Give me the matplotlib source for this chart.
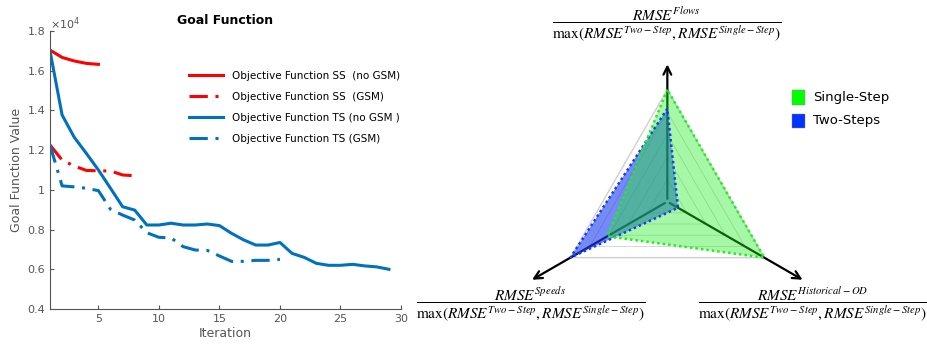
import numpy as np
import matplotlib
matplotlib.use("Agg")
import matplotlib.pyplot as plt
from matplotlib.ticker import FuncFormatter
from matplotlib.patches import Rectangle

# goal function data
iter_ss = [1, 2, 3, 4, 5]
ss_no_gsm = [17040, 16670, 16490, 16370, 16320]
iter_ss_gsm = [1, 2, 3, 4, 5, 6, 7, 8]
ss_gsm = [12260, 11500, 11200, 10980, 10960, 10950, 10750, 10710]
iter_ts = list(range(1, 30))
ts_no_gsm = [17000, 13770, 12650, 11840, 11000, 10080, 9150, 8980, 8230, 8230,
             8320, 8230, 8230, 8280, 8200, 7810, 7480, 7220, 7220, 7350,
             6800, 6600, 6300, 6200, 6200, 6250, 6170, 6120, 6000]
iter_ts_gsm = list(range(1, 21))
ts_gsm = [12260, 10200, 10150, 10080, 9960, 9020, 8730, 8480, 7840, 7610,
          7580, 7140, 6970, 6950, 6670, 6400, 6400, 6450, 6450, 6500]
legend_labels = ["Objective Function SS  (no GSM)", "Objective Function SS  (GSM)",
                 "Objective Function TS (no GSM )", "Objective Function TS (GSM)"]

# radar data: RMSE / max(RMSE two-step, RMSE single-step)
radar_axes = ["Flows", "Speeds", "Historical-OD"]
single_step = [1.0, 0.62, 1.0]
two_steps = [0.83, 1.0, 0.11]

fig = plt.figure(figsize=(9.27, 3.45), dpi=100)

# ---------- left: goal function ----------
ax = fig.add_axes([50/927, 1-309/345, 351/927, 278/345])
red = "#ff0000"
blue = "#0072bd"
dd = (0, (6, 2.5, 1, 2.5))
ax.plot(iter_ss, ss_no_gsm, color=red, lw=2.2, label=legend_labels[0])
ax.plot(iter_ss_gsm, ss_gsm, color=red, lw=2.2, ls=dd, label=legend_labels[1])
ax.plot(iter_ts, ts_no_gsm, color=blue, lw=2.2, label=legend_labels[2])
ax.plot(iter_ts_gsm, ts_gsm, color=blue, lw=2.2, ls=dd, label=legend_labels[3])
ax.set_xlim(1, 30)
ax.set_ylim(4000, 18000)
ax.set_xticks([5, 10, 15, 20, 25, 30])
ax.set_yticks(np.arange(4000, 18001, 2000))
ax.yaxis.set_major_formatter(FuncFormatter(lambda v, p: "%g" % round(v / 1e4, 2)))
for s in ["top", "right"]:
    ax.spines[s].set_visible(False)
for s in ["left", "bottom"]:
    ax.spines[s].set_color("#555555")
    ax.spines[s].set_linewidth(0.8)
ax.tick_params(direction="in", length=3, labelsize=8, colors="#555555", labelcolor="#555555")
ax.text(0.0, 1.01, r"$\times10^4$", transform=ax.transAxes, fontsize=8, color="#555555")
ax.set_xlabel("Iteration", fontsize=9, color="#555555", labelpad=2)
ax.set_ylabel("Goal Function Value", fontsize=9, color="#555555", labelpad=3)
ax.set_title("Goal Function", fontsize=9, fontweight="bold", x=0.5, y=1.0, pad=5)
leg = ax.legend(loc="upper left", bbox_to_anchor=(0.37, 0.89), frameon=False, fontsize=7.5,
                handlelength=3.2, labelspacing=1.05, handletextpad=0.9)

# ---------- right: radar ----------
rx = fig.add_axes([420/927, 0, 507/927, 1])
rx.set_xlim(-2.21, 2.32)
rx.set_ylim(-1.28, 1.80)
rx.set_aspect("auto")
rx.axis("off")

angles = np.deg2rad([90, 210, 330])

def pts(vals):
    v = np.asarray(vals)
    return v * np.cos(angles), v * np.sin(angles)

# grid triangles
for lev in [0.2, 0.4, 0.6, 0.8, 1.0]:
    gx, gy = pts([lev] * 3)
    rx.fill(gx, gy, facecolor="none", edgecolor="#d0d0d0", lw=1.0 if lev == 1.0 else 0.6, zorder=1)

# axis arrows
arrow_len = [1.25, 1.42, 1.42]
for a, L in zip(angles, arrow_len):
    rx.annotate("", xy=(L * np.cos(a), L * np.sin(a)), xytext=(0, 0),
                arrowprops=dict(arrowstyle="->", color="black", lw=1.6, mutation_scale=14), zorder=2)

bx, by = pts(two_steps)
rx.fill(bx, by, facecolor="#1a3cf0", alpha=0.6, edgecolor="none", zorder=3)
rx.fill(bx, by, facecolor="none", edgecolor="#1a3cf0", lw=1.8, ls=(0, (1, 1.2)), zorder=5)
gx, gy = pts(single_step)
rx.fill(gx, gy, facecolor="#22ee22", alpha=0.4, edgecolor="none", zorder=4)
rx.fill(gx, gy, facecolor="none", edgecolor="#22ee22", lw=1.8, ls=(0, (1, 1.2)), zorder=6)

plt.rcParams["mathtext.fontset"] = "stix"
den = r"\max(RMSE^{Two-Step},RMSE^{Single-Step})"
lab_pos = [(0.0, 1.58), (-1.22, -0.92), (1.3, -0.92)]
for name, (lx, ly) in zip(radar_axes, lab_pos):
    rx.text(lx, ly, r"$\dfrac{RMSE^{%s}}{%s}$" % (name, den), ha="center", va="center", fontsize=11)

# radar legend
for i, (lab, col) in enumerate(zip(["Single-Step", "Two-Steps"], ["#00ff00", "#0033ff"])):
    yy = 0.93 - i * 0.21
    rx.add_patch(Rectangle((1.11, yy - 0.065), 0.12, 0.13, facecolor=col, edgecolor="#888888", lw=0.3))
    rx.text(1.3, yy, lab, va="center", ha="left", fontsize=9.5)

fig.savefig("out.png", dpi=100)
